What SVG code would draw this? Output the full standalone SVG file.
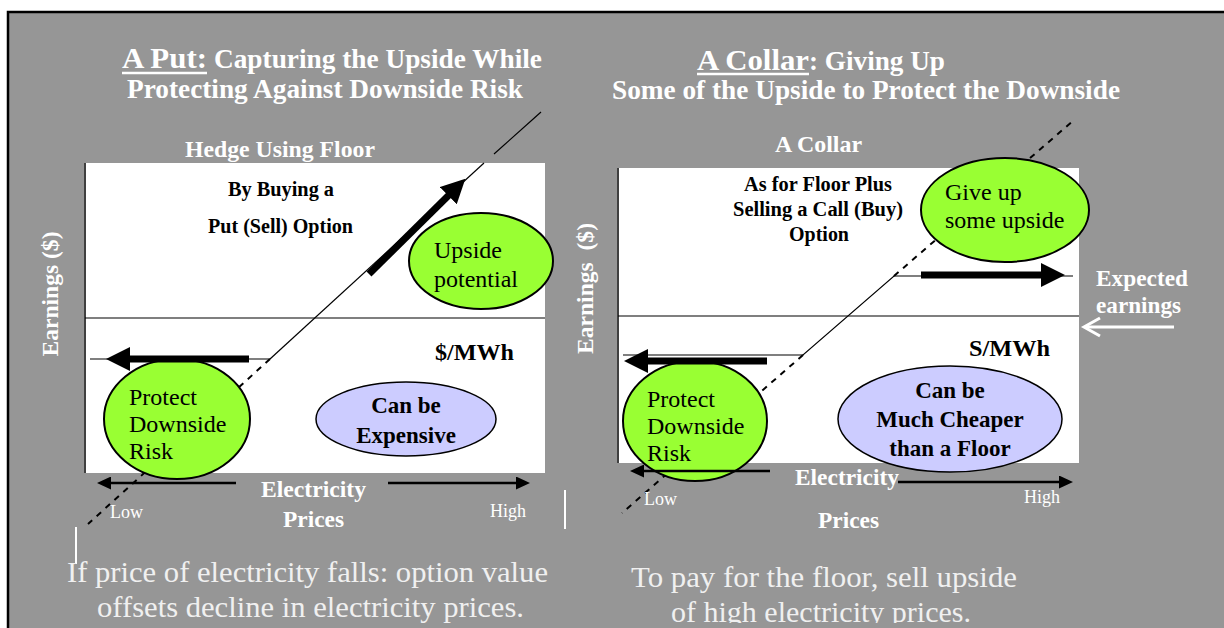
<svg xmlns="http://www.w3.org/2000/svg" width="1224" height="628" viewBox="0 0 1224 628">
<defs>
<style>
text{font-family:"Liberation Serif","Times New Roman",serif}
.wb{fill:#fff;font-weight:bold}
.bb{fill:#000;font-weight:bold}
.br{fill:#000}
.wr{fill:#fff}
.cap{fill:#f0f0f0}
.thin{stroke:#000;stroke-width:1.2;fill:none}
.dash{stroke:#000;stroke-width:2;stroke-dasharray:6 6;fill:none}
.green{fill:#99ff33;stroke:#000;stroke-width:2}
.lav{fill:#ccccff;stroke:#000;stroke-width:1.5}
.thick{stroke:#000;stroke-width:7;fill:none;marker-end:url(#bigHead)}
.axis{stroke:#000;stroke-width:2.5;fill:none;marker-end:url(#smallHead)}
</style>
<marker id="bigHead" markerUnits="userSpaceOnUse" viewBox="0 0 24 24" markerWidth="24" markerHeight="24" refX="1" refY="12" orient="auto"><path d="M0,0 L24,12 L0,24 z" fill="#000"/></marker>
<marker id="smallHead" markerUnits="userSpaceOnUse" viewBox="0 0 14 13" markerWidth="14" markerHeight="13" refX="1" refY="6.5" orient="auto"><path d="M0,0 L14,6.5 L0,13 z" fill="#000"/></marker>
<clipPath id="bottomClip"><rect x="0" y="0" width="1224" height="623"/></clipPath>
</defs>

<rect x="0" y="0" width="1224" height="628" fill="#fff"/>
<rect x="8" y="12" width="1230" height="630" fill="#969696" stroke="#000" stroke-width="2.5"/>

<g id="titles">
<text x="122" y="68" font-size="30" class="wb" textLength="85" lengthAdjust="spacingAndGlyphs">A Put:</text>
<line x1="122" y1="73" x2="207" y2="73" stroke="#fff" stroke-width="2.5"/>
<text x="214" y="68" font-size="27" class="wb" textLength="328" lengthAdjust="spacingAndGlyphs">Capturing the Upside While</text>
<text x="127" y="98" font-size="27" class="wb" textLength="396" lengthAdjust="spacingAndGlyphs">Protecting Against Downside Risk</text>
<text x="697" y="70" font-size="30" class="wb" textLength="112" lengthAdjust="spacingAndGlyphs">A Collar</text>
<line x1="697" y1="74" x2="809" y2="74" stroke="#fff" stroke-width="2.5"/>
<text x="809" y="70" font-size="27" class="wb" textLength="136" lengthAdjust="spacingAndGlyphs">: Giving Up</text>
<text x="612" y="99" font-size="27" class="wb" textLength="508" lengthAdjust="spacingAndGlyphs">Some of the Upside to Protect the Downside</text>
<text x="185" y="157" font-size="23" class="wb" textLength="190" lengthAdjust="spacingAndGlyphs">Hedge Using Floor</text>
<text x="775" y="152" font-size="23" class="wb" textLength="87" lengthAdjust="spacingAndGlyphs">A Collar</text>
</g>

<g id="left-chart">
<rect x="85" y="163" width="460" height="310" fill="#fff"/>
<line x1="85" y1="163" x2="85" y2="473" stroke="#404040" stroke-width="2"/>
<line x1="85" y1="318" x2="545" y2="318" stroke="#000" stroke-width="1.2"/>
<text x="228" y="196" font-size="20" class="bb" textLength="106" lengthAdjust="spacingAndGlyphs">By Buying a</text>
<text x="208" y="233" font-size="20" class="bb" textLength="145" lengthAdjust="spacingAndGlyphs">Put (Sell) Option</text>
<text x="435" y="360" font-size="24" class="bb" textLength="79" lengthAdjust="spacingAndGlyphs">$/MWh</text>
<text transform="translate(58,294) rotate(-90)" text-anchor="middle" font-size="23" class="wb" textLength="125" lengthAdjust="spacingAndGlyphs">Earnings ($)</text>
</g>

<g id="right-chart">
<rect x="618" y="168" width="461" height="295" fill="#fff"/>
<line x1="618" y1="168" x2="618" y2="463" stroke="#404040" stroke-width="2"/>
<line x1="618" y1="316" x2="1079" y2="316" stroke="#000" stroke-width="1.2"/>
<text x="744" y="191" font-size="20" class="bb" textLength="148" lengthAdjust="spacingAndGlyphs">As for Floor Plus</text>
<text x="733" y="216" font-size="20" class="bb" textLength="170" lengthAdjust="spacingAndGlyphs">Selling a Call (Buy)</text>
<text x="789" y="241" font-size="20" class="bb" textLength="60" lengthAdjust="spacingAndGlyphs">Option</text>
<text x="969" y="356" font-size="24" class="bb" textLength="81" lengthAdjust="spacingAndGlyphs">S/MWh</text>
<text transform="translate(593,288.5) rotate(-90)" text-anchor="middle" font-size="23" class="wb" textLength="131" lengthAdjust="spacingAndGlyphs" xml:space="preserve">Earnings  ($)</text>
</g>

<g id="connectors-back">
<line class="dash" x1="270" y1="359" x2="88" y2="524"/>
<line class="dash" x1="803" y1="355" x2="622" y2="513"/>
<line class="dash" x1="894" y1="276" x2="1074" y2="120"/>
<line class="thin" x1="270" y1="359" x2="484" y2="163"/>
<line class="thin" x1="494" y1="154" x2="541" y2="112"/>
<line class="thin" x1="90" y1="359" x2="270" y2="359"/>
<polyline class="thin" points="623,355 803,355 894,276 1073,276"/>
</g>

<g id="upside-potential">
<ellipse class="green" cx="481" cy="261" rx="72" ry="48"/>
<text x="434" y="258" font-size="24" class="br">Upside</text>
<text x="434" y="287" font-size="24" class="br">potential</text>
</g>
<g id="give-up-upside">
<ellipse class="green" cx="1005" cy="210" rx="84" ry="52"/>
<text x="945" y="200" font-size="24" class="br">Give up</text>
<text x="945" y="228" font-size="24" class="br">some upside</text>
</g>
<g id="protect-left">
<ellipse class="green" cx="177" cy="419" rx="73" ry="60"/>
<text x="129" y="405" font-size="24" class="br">Protect</text>
<text x="129" y="432" font-size="24" class="br">Downside</text>
<text x="129" y="459" font-size="24" class="br">Risk</text>
</g>
<g id="protect-right">
<ellipse class="green" cx="695" cy="421" rx="72" ry="60"/>
<text x="647" y="407" font-size="24" class="br">Protect</text>
<text x="647" y="434" font-size="24" class="br">Downside</text>
<text x="647" y="461" font-size="24" class="br">Risk</text>
</g>
<g id="expensive">
<ellipse class="lav" cx="406" cy="419" rx="90" ry="37"/>
<text x="406" y="413" font-size="23" class="bb" text-anchor="middle">Can be</text>
<text x="406" y="443" font-size="23" class="bb" text-anchor="middle">Expensive</text>
</g>
<g id="cheaper">
<ellipse class="lav" cx="950" cy="419" rx="112" ry="53"/>
<text x="950" y="398" font-size="23" class="bb" text-anchor="middle">Can be</text>
<text x="950" y="427" font-size="23" class="bb" text-anchor="middle">Much Cheaper</text>
<text x="950" y="456" font-size="23" class="bb" text-anchor="middle">than a Floor</text>
</g>

<g id="connectors">
<line class="thick" x1="249" y1="359" x2="129" y2="359"/>
<line class="thick" x1="369" y1="274" x2="449" y2="195"/>
<line class="thick" x1="767" y1="361" x2="647" y2="361"/>
<line class="thick" x1="921" y1="275" x2="1042" y2="275"/>
<line class="axis" x1="236" y1="483" x2="110" y2="483"/>
<line class="axis" x1="388" y1="483" x2="517" y2="483"/>
<line class="axis" x1="770" y1="471" x2="643" y2="471"/>
<line class="axis" x1="898" y1="482" x2="1060" y2="482"/>
<line x1="1174" y1="327" x2="1086" y2="327" stroke="#fff" stroke-width="3"/>
<polyline points="1100,318 1084,327 1100,336" stroke="#fff" stroke-width="3" fill="none"/>
<line x1="76" y1="527" x2="76" y2="564" stroke="#fff" stroke-width="2"/>
<line x1="565" y1="490" x2="565" y2="529" stroke="#fff" stroke-width="2"/>
</g>

<g id="axis-labels">
<text x="261" y="497" font-size="23" class="wb" textLength="105" lengthAdjust="spacingAndGlyphs">Electricity</text>
<text x="283" y="527" font-size="23" class="wb" textLength="61" lengthAdjust="spacingAndGlyphs">Prices</text>
<text x="110" y="518" font-size="18" class="wr">Low</text>
<text x="490" y="517" font-size="18" class="wr">High</text>
<text x="795" y="485" font-size="23" class="wb" textLength="104" lengthAdjust="spacingAndGlyphs">Electricity</text>
<text x="818" y="528" font-size="23" class="wb" textLength="61" lengthAdjust="spacingAndGlyphs">Prices</text>
<text x="644" y="505" font-size="18" class="wr">Low</text>
<text x="1024" y="503" font-size="18" class="wr">High</text>
<text x="1096" y="286" font-size="23" class="wb" textLength="92" lengthAdjust="spacingAndGlyphs">Expected</text>
<text x="1096" y="313" font-size="23" class="wb" textLength="85" lengthAdjust="spacingAndGlyphs">earnings</text>
</g>

<g id="captions" clip-path="url(#bottomClip)">
<text x="67" y="582" font-size="30" class="cap" textLength="481" lengthAdjust="spacingAndGlyphs">If price of electricity falls: option value</text>
<text x="97" y="617" font-size="30" class="cap" textLength="427" lengthAdjust="spacingAndGlyphs">offsets decline in electricity prices.</text>
<text x="631" y="587" font-size="30" class="cap" textLength="386" lengthAdjust="spacingAndGlyphs">To pay for the floor, sell upside</text>
<text x="671" y="622" font-size="30" class="cap" textLength="300" lengthAdjust="spacingAndGlyphs">of high electricity prices.</text>
</g>
</svg>
